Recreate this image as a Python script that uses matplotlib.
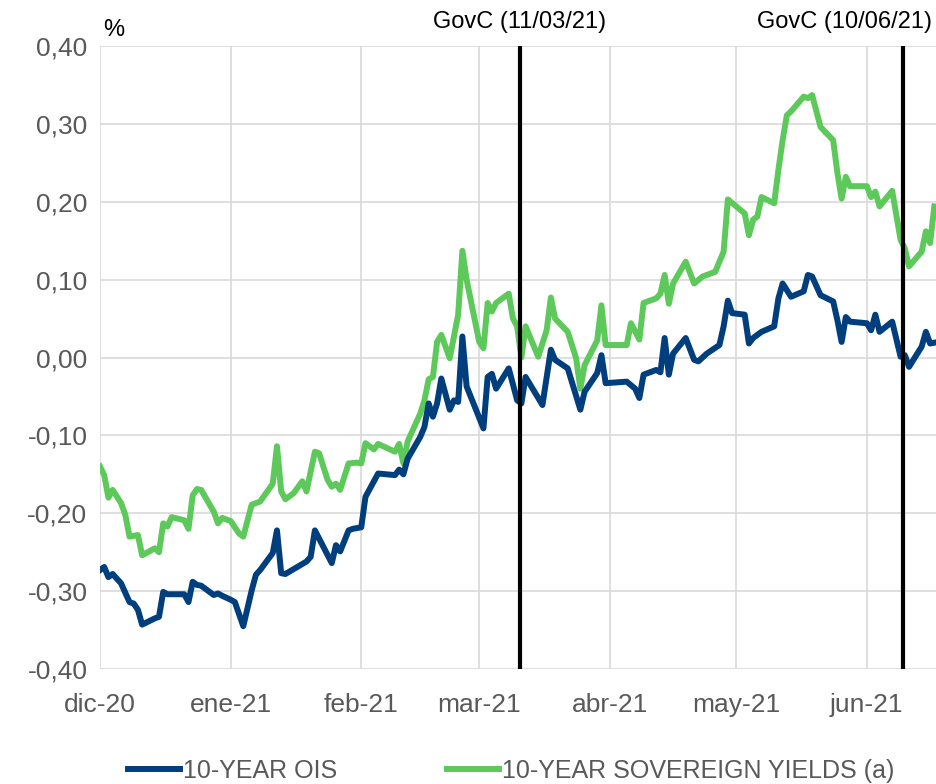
import pandas as pd
import matplotlib
matplotlib.use('Agg')
import matplotlib.pyplot as plt
import matplotlib.dates as mdates

plt.rcParams['font.family'] = ['Liberation Sans', 'DejaVu Sans']

# 10-year OIS (%)
ois_dates = ['2020-12-01', '2020-12-02', '2020-12-03', '2020-12-04', '2020-12-06', '2020-12-07',
             '2020-12-08', '2020-12-09', '2020-12-10', '2020-12-11', '2020-12-14', '2020-12-15',
             '2020-12-16', '2020-12-17', '2020-12-21', '2020-12-22', '2020-12-23', '2020-12-24',
             '2020-12-25', '2020-12-28', '2020-12-29', '2020-12-30', '2021-01-01', '2021-01-02',
             '2021-01-04', '2021-01-06', '2021-01-07', '2021-01-08', '2021-01-11', '2021-01-12',
             '2021-01-13', '2021-01-14', '2021-01-19', '2021-01-20', '2021-01-21', '2021-01-25',
             '2021-01-26', '2021-01-27', '2021-01-29', '2021-01-30', '2021-02-01', '2021-02-02',
             '2021-02-05', '2021-02-09', '2021-02-10', '2021-02-11', '2021-02-12', '2021-02-15',
             '2021-02-16', '2021-02-17', '2021-02-18', '2021-02-19', '2021-02-20', '2021-02-22',
             '2021-02-23', '2021-02-24', '2021-02-25', '2021-02-26', '2021-03-02', '2021-03-03',
             '2021-03-04', '2021-03-05', '2021-03-08', '2021-03-10', '2021-03-11', '2021-03-12',
             '2021-03-16', '2021-03-18', '2021-03-19', '2021-03-22', '2021-03-25', '2021-03-26',
             '2021-03-29', '2021-03-30', '2021-03-31', '2021-04-05', '2021-04-07', '2021-04-08',
             '2021-04-09', '2021-04-12', '2021-04-13', '2021-04-14', '2021-04-15', '2021-04-16',
             '2021-04-19', '2021-04-21', '2021-04-22', '2021-04-24', '2021-04-27', '2021-04-28',
             '2021-04-29', '2021-04-30', '2021-05-03', '2021-05-04', '2021-05-05', '2021-05-07',
             '2021-05-10', '2021-05-11', '2021-05-12', '2021-05-14', '2021-05-17', '2021-05-18',
             '2021-05-19', '2021-05-21', '2021-05-24', '2021-05-25', '2021-05-26', '2021-05-27',
             '2021-05-28', '2021-06-01', '2021-06-02', '2021-06-03', '2021-06-04', '2021-06-07',
             '2021-06-09', '2021-06-10', '2021-06-11', '2021-06-14', '2021-06-15', '2021-06-16',
             '2021-06-17']
ois_vals = [-0.273, -0.269, -0.282, -0.278, -0.290, -0.302,
            -0.314, -0.316, -0.324, -0.343, -0.335, -0.333,
            -0.301, -0.304, -0.304, -0.314, -0.288, -0.292,
            -0.293, -0.305, -0.303, -0.306, -0.311, -0.314,
            -0.345, -0.299, -0.279, -0.273, -0.251, -0.222,
            -0.277, -0.278, -0.262, -0.256, -0.222, -0.264,
            -0.241, -0.249, -0.222, -0.220, -0.218, -0.179,
            -0.149, -0.151, -0.144, -0.150, -0.130, -0.102,
            -0.089, -0.059, -0.076, -0.059, -0.027, -0.067,
            -0.055, -0.057, 0.027, -0.037, -0.091, -0.025,
            -0.021, -0.040, -0.014, -0.055, -0.059, -0.025,
            -0.061, 0.010, -0.003, -0.014, -0.067, -0.044,
            -0.020, 0.003, -0.033, -0.031, -0.040, -0.052,
            -0.022, -0.016, -0.019, 0.025, -0.022, 0.005,
            0.025, -0.003, -0.005, 0.005, 0.016, 0.040,
            0.073, 0.057, 0.055, 0.018, 0.025, 0.033,
            0.040, 0.076, 0.095, 0.078, 0.085, 0.106,
            0.104, 0.080, 0.072, 0.048, 0.020, 0.052,
            0.046, 0.044, 0.035, 0.055, 0.033, 0.046,
            0.001, 0.003, -0.012, 0.014, 0.033, 0.018,
            0.019]

# 10-year sovereign yields (a) (%)
sov_dates = ['2020-12-01', '2020-12-02', '2020-12-03', '2020-12-04', '2020-12-06', '2020-12-07',
             '2020-12-08', '2020-12-10', '2020-12-11', '2020-12-14', '2020-12-15', '2020-12-16',
             '2020-12-17', '2020-12-18', '2020-12-21', '2020-12-22', '2020-12-23', '2020-12-24',
             '2020-12-25', '2020-12-28', '2020-12-29', '2020-12-30', '2021-01-01', '2021-01-03',
             '2021-01-04', '2021-01-06', '2021-01-07', '2021-01-08', '2021-01-11', '2021-01-12',
             '2021-01-13', '2021-01-14', '2021-01-16', '2021-01-18', '2021-01-19', '2021-01-21',
             '2021-01-22', '2021-01-24', '2021-01-25', '2021-01-26', '2021-01-27', '2021-01-29',
             '2021-01-31', '2021-02-01', '2021-02-02', '2021-02-04', '2021-02-05', '2021-02-09',
             '2021-02-10', '2021-02-11', '2021-02-12', '2021-02-15', '2021-02-16', '2021-02-17',
             '2021-02-18', '2021-02-19', '2021-02-20', '2021-02-22', '2021-02-24', '2021-02-25',
             '2021-02-26', '2021-03-01', '2021-03-02', '2021-03-03', '2021-03-04', '2021-03-05',
             '2021-03-08', '2021-03-09', '2021-03-10', '2021-03-11', '2021-03-12', '2021-03-15',
             '2021-03-17', '2021-03-18', '2021-03-19', '2021-03-22', '2021-03-24', '2021-03-25',
             '2021-03-26', '2021-03-29', '2021-03-30', '2021-03-31', '2021-04-05', '2021-04-06',
             '2021-04-08', '2021-04-09', '2021-04-12', '2021-04-13', '2021-04-14', '2021-04-15',
             '2021-04-16', '2021-04-19', '2021-04-21', '2021-04-23', '2021-04-26', '2021-04-28',
             '2021-04-29', '2021-05-01', '2021-05-03', '2021-05-04', '2021-05-05', '2021-05-06',
             '2021-05-07', '2021-05-10', '2021-05-11', '2021-05-12', '2021-05-13', '2021-05-14',
             '2021-05-17', '2021-05-18', '2021-05-19', '2021-05-21', '2021-05-24', '2021-05-25',
             '2021-05-26', '2021-05-27', '2021-05-28', '2021-06-01', '2021-06-02', '2021-06-03',
             '2021-06-04', '2021-06-07', '2021-06-09', '2021-06-10', '2021-06-11', '2021-06-14',
             '2021-06-15', '2021-06-16', '2021-06-17']
sov_vals = [-0.140, -0.151, -0.180, -0.170, -0.187, -0.202,
            -0.230, -0.228, -0.254, -0.245, -0.250, -0.213,
            -0.217, -0.205, -0.209, -0.220, -0.177, -0.169,
            -0.170, -0.198, -0.213, -0.206, -0.210, -0.226,
            -0.230, -0.189, -0.187, -0.185, -0.162, -0.114,
            -0.172, -0.182, -0.174, -0.159, -0.172, -0.121,
            -0.123, -0.157, -0.166, -0.162, -0.170, -0.136,
            -0.135, -0.136, -0.110, -0.118, -0.111, -0.121,
            -0.111, -0.136, -0.108, -0.072, -0.055, -0.028,
            -0.025, 0.020, 0.029, -0.001, 0.055, 0.137,
            0.100, 0.020, 0.012, 0.070, 0.059, 0.070,
            0.082, 0.050, 0.040, 0.000, 0.040, 0.001,
            0.035, 0.077, 0.050, 0.033, -0.001, -0.040,
            -0.010, 0.022, 0.067, 0.016, 0.016, 0.044,
            0.023, 0.070, 0.076, 0.082, 0.106, 0.069,
            0.095, 0.123, 0.095, 0.104, 0.110, 0.136,
            0.203, 0.194, 0.185, 0.157, 0.177, 0.181,
            0.206, 0.198, 0.241, 0.279, 0.311, 0.316,
            0.335, 0.333, 0.337, 0.296, 0.279, 0.237,
            0.204, 0.232, 0.220, 0.220, 0.206, 0.213,
            0.194, 0.214, 0.151, 0.140, 0.117, 0.136,
            0.162, 0.147, 0.194]

month_ticks = ['2020-12-01', '2021-01-01', '2021-02-01', '2021-03-01',
               '2021-04-01', '2021-05-01', '2021-06-01']
month_labels = ['dic-20', 'ene-21', 'feb-21', 'mar-21', 'abr-21', 'may-21', 'jun-21']
y_ticks = [-0.4, -0.3, -0.2, -0.1, 0.0, 0.1, 0.2, 0.3, 0.4]
govc_dates = ['2021-03-11', '2021-06-10']
govc_labels = ['GovC (11/03/21)', 'GovC (10/06/21)']

blue = '#003e7e'
green = '#5dc95b'
grey_txt = '#595959'

fig = plt.figure(figsize=(9.36, 7.84), dpi=100)
ax = fig.add_axes([100 / 936, 1 - 669 / 784, 1 - 100 / 936, (669 - 46) / 784])

ax.plot(pd.to_datetime(ois_dates), ois_vals, color=blue, lw=4.3,
        solid_joinstyle='round', label='10-YEAR OIS', zorder=3)
ax.plot(pd.to_datetime(sov_dates), sov_vals, color=green, lw=4.3,
        solid_joinstyle='round', label='10-YEAR SOVEREIGN YIELDS (a)', zorder=2)

for d in govc_dates:
    ax.axvline(pd.Timestamp(d) - pd.Timedelta(hours=10), color='black', lw=3, zorder=4)

x0 = pd.Timestamp('2020-12-01')
ax.set_xlim(mdates.date2num(x0), mdates.date2num(x0) + 198.4)
ax.set_ylim(-0.4, 0.4)

ax.set_xticks(pd.to_datetime(month_ticks))
ax.set_xticklabels(month_labels)
ax.set_yticks(y_ticks)
ax.set_yticklabels([f'{v:.2f}'.replace('.', ',') for v in y_ticks])
ax.tick_params(axis='both', length=0, labelsize=19, colors=grey_txt)
ax.tick_params(axis='y', pad=9)
ax.tick_params(axis='x', pad=17)

ax.grid(True, color='#d9d9d9', lw=1.2)
ax.set_axisbelow(True)
for s in ax.spines.values():
    s.set_visible(False)

fig.text(103 / 936, 1 - 30 / 784, '%', fontsize=17, color='black', va='center', ha='left')
fig.text(519.5 / 936, 1 - 22 / 784, govc_labels[0], fontsize=17, color='black',
         va='center', ha='center')
fig.text(932 / 936, 1 - 22 / 784, govc_labels[1], fontsize=17, color='black',
         va='center', ha='right')

fig.legend(loc='center', bbox_to_anchor=(0.546, 1 - 771 / 784), ncol=2, frameon=False,
           fontsize=18, handlelength=2.1, handletextpad=0.1, columnspacing=4.4,
           labelcolor=grey_txt)

fig.savefig('out.png', dpi=100)
